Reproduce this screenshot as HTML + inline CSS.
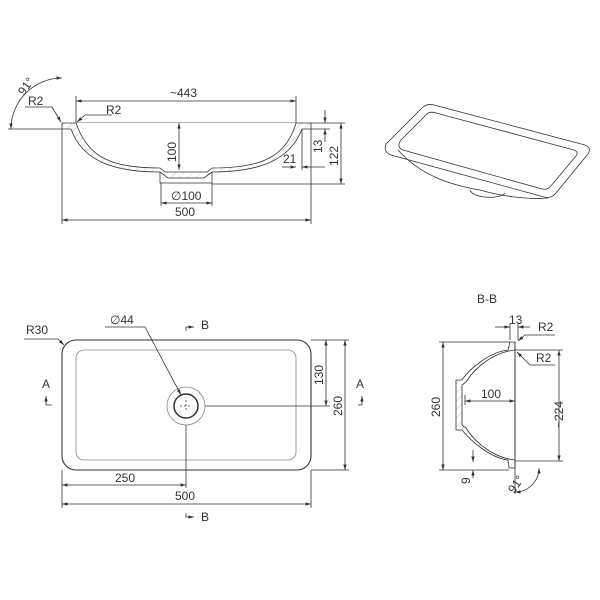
<!DOCTYPE html>
<html><head><meta charset="utf-8"><style>
html,body{margin:0;padding:0;background:#fff}
svg{display:block}
text{font-family:"Liberation Sans",sans-serif;font-size:12px;fill:#333}
</style></head><body>
<svg width="600" height="600" viewBox="0 0 600 600" xmlns="http://www.w3.org/2000/svg">
<defs>
<marker id="a" viewBox="0 0 10 10" refX="10" refY="5" markerWidth="7" markerHeight="7" orient="auto-start-reverse"><path d="M0,2 L10,5 L0,8z" fill="#333"/></marker>
<pattern id="h" width="6" height="6" patternUnits="userSpaceOnUse" patternTransform="rotate(45)"><line x1="0" y1="0" x2="0" y2="6" stroke="#999" stroke-width="0.6"/></pattern>
</defs>
<g fill="none" stroke="#333" stroke-width="0.8">
<path d="M62,123 L311,123 L311,129 L302,129 C290,160 260,172 212,172 L204,178 L168,178 L160,172 C112,172 82,160 71,129 L62,129 Z" fill="url(#h)"/>
<path d="M76,123 C88,158 112,168 160,168 L165,172 L207,172 L212,168 C260,168 286,158 296,123" fill="#fff"/>
<path d="M160,172 L160,183 L212,183 L212,172" />
<line x1="76" y1="123" x2="76" y2="96"/><line x1="296" y1="123" x2="296" y2="96"/>
<line x1="76" y1="101" x2="296" y2="101" marker-start="url(#a)" marker-end="url(#a)"/>
<line x1="179" y1="123" x2="179" y2="170" marker-start="url(#a)" marker-end="url(#a)"/>
<line x1="62" y1="129" x2="62" y2="224"/><line x1="311" y1="129" x2="311" y2="224"/>
<line x1="62" y1="220" x2="311" y2="220" marker-start="url(#a)" marker-end="url(#a)"/>
<line x1="161" y1="183" x2="161" y2="206"/><line x1="212" y1="183" x2="212" y2="206"/>
<line x1="161" y1="203" x2="212" y2="203" marker-start="url(#a)" marker-end="url(#a)"/>
<line x1="311" y1="123" x2="345" y2="123"/><line x1="212" y1="184" x2="345" y2="184"/>
<line x1="341" y1="123" x2="341" y2="184" marker-start="url(#a)" marker-end="url(#a)"/>
<line x1="311" y1="129" x2="330" y2="129"/>
<line x1="325" y1="110" x2="325" y2="123" marker-end="url(#a)"/><line x1="325" y1="142" x2="325" y2="129" marker-end="url(#a)"/>
<line x1="302" y1="129" x2="302" y2="170"/>
<line x1="282" y1="167" x2="296" y2="167" marker-end="url(#a)"/><line x1="325" y1="167" x2="302" y2="167" marker-end="url(#a)"/>
<line x1="62" y1="129" x2="8" y2="129"/>
<path d="M62,78 A51,51 0 0 0 11,129" marker-start="url(#a)" marker-end="url(#a)"/>
<polyline points="25,107 52,107 61,122" marker-end="url(#a)"/>
<polyline points="112,115 85,115 77,122" marker-end="url(#a)"/>
<path d="M398,150 C420,175 450,185 480,190 C500,196 530,200 548,198" />
<path d="M470,190 C472,198 500,200 505,193"/>
<path d="M392,138 L422,108 Q427,103 434,105 L585,145 Q592,148 588,154 L556,193 Q551,199 544,197 L391,155 Q383,152 386,144 Z"/>
<path d="M401,140 L427,114 Q430,111 436,113 L574,150 Q579,152 576,156 L550,187 Q547,190 542,189 L403,150 Q396,147 401,140 Z"/>
<rect x="62" y="340" width="249" height="130" rx="14" stroke-width="1.1"/>
<rect x="76" y="350" width="220" height="110" rx="8" stroke="#888"/>
<circle cx="186" cy="406" r="19" stroke="#888"/>
<circle cx="186" cy="406" r="12" stroke-width="1.5"/>
<line x1="180" y1="406" x2="192" y2="406" stroke-dasharray="2,2"/><line x1="186" y1="400" x2="186" y2="412" stroke-dasharray="2,2"/>
<line x1="205" y1="406" x2="330" y2="406"/>
<line x1="311" y1="340" x2="349" y2="340"/><line x1="311" y1="470" x2="349" y2="470"/>
<line x1="326" y1="340" x2="326" y2="406" marker-start="url(#a)" marker-end="url(#a)"/>
<line x1="345" y1="340" x2="345" y2="470" marker-start="url(#a)" marker-end="url(#a)"/>
<line x1="186" y1="425" x2="186" y2="488"/><line x1="62" y1="470" x2="62" y2="508"/><line x1="311" y1="470" x2="311" y2="508"/>
<line x1="62" y1="485" x2="186" y2="485" marker-start="url(#a)" marker-end="url(#a)"/>
<line x1="62" y1="504" x2="311" y2="504" marker-start="url(#a)" marker-end="url(#a)"/>
<polyline points="24,339 58,339 64,345" marker-end="url(#a)"/>
<polyline points="105,327 145,327 181,395" marker-end="url(#a)"/>
<polyline points="186,331 186,327 194,327" marker-end="url(#a)"/>
<polyline points="186,513 186,517 194,517" marker-end="url(#a)"/>
<polyline points="52,405 46,405 46,396" marker-end="url(#a)"/>
<polyline points="358,405 362,405 362,396" marker-end="url(#a)"/>
<path d="M515,342 L515,468 L509,468 L508,460 C490,458 470,440 462,430 L456,430 L456,380 L462,380 C470,368 490,352 508,350 L510,342 Z" fill="url(#h)"/>
<path d="M515,350 C495,352 476,366 466,382 L462,385 L462,425 L466,428 C476,444 495,458 515,460 Z" fill="#fff"/>
<line x1="515" y1="342" x2="515" y2="468"/>
<line x1="510" y1="342" x2="439" y2="342"/><line x1="509" y1="470" x2="439" y2="470"/>
<line x1="443" y1="342" x2="443" y2="470" marker-start="url(#a)" marker-end="url(#a)"/>
<line x1="515" y1="350" x2="563" y2="350"/><line x1="515" y1="461" x2="563" y2="461"/>
<line x1="559" y1="350" x2="559" y2="461" marker-start="url(#a)" marker-end="url(#a)"/>
<line x1="465" y1="401" x2="515" y2="401" marker-start="url(#a)" marker-end="url(#a)"/>
<line x1="465" y1="395" x2="465" y2="405"/>
<line x1="510" y1="340" x2="510" y2="324"/><line x1="518" y1="340" x2="518" y2="324"/>
<line x1="495" y1="327" x2="510" y2="327" marker-end="url(#a)"/><line x1="530" y1="327" x2="518" y2="327" marker-end="url(#a)"/>
<polyline points="555,335 525,335 518,341" marker-end="url(#a)"/>
<polyline points="555,365 530,365 517,352" marker-end="url(#a)"/>
<line x1="473" y1="450" x2="473" y2="462" marker-end="url(#a)"/><line x1="473" y1="478" x2="473" y2="470" marker-end="url(#a)"/>
<line x1="515" y1="468" x2="515" y2="494"/>
<path d="M515,492 A24,24 0 0 0 539,468" marker-start="url(#a)" marker-end="url(#a)"/>
</g>
<text x="170" y="97">~443</text>
<text x="106" y="114">R2</text>
<text x="28" y="105">R2</text>
<text transform="translate(24,96) rotate(-55)">91°</text>
<text transform="translate(176,162) rotate(-90)">100</text>
<text x="171" y="200">∅100</text>
<text x="175" y="216">500</text>
<text transform="translate(322,153) rotate(-90)">13</text>
<text transform="translate(338,166) rotate(-90)">122</text>
<text x="283" y="163">21</text>
<text x="26" y="334">R30</text>
<text x="110" y="324">∅44</text>
<text x="201" y="329">B</text>
<text x="201" y="521">B</text>
<text x="42" y="388">A</text>
<text x="356" y="388">A</text>
<text transform="translate(323,385) rotate(-90)">130</text>
<text transform="translate(342,416) rotate(-90)">260</text>
<text x="115" y="482">250</text>
<text x="175" y="500">500</text>
<text x="477" y="303">B-B</text>
<text x="509" y="324">13</text>
<text x="538" y="331">R2</text>
<text x="536" y="362">R2</text>
<text x="481" y="398">100</text>
<text transform="translate(440,417) rotate(-90)">260</text>
<text transform="translate(563,428) rotate(-90)">~224</text>
<text transform="translate(470,484) rotate(-90)">9</text>
<text transform="translate(514,494) rotate(-55)">91°</text>
</svg>
</body></html>
